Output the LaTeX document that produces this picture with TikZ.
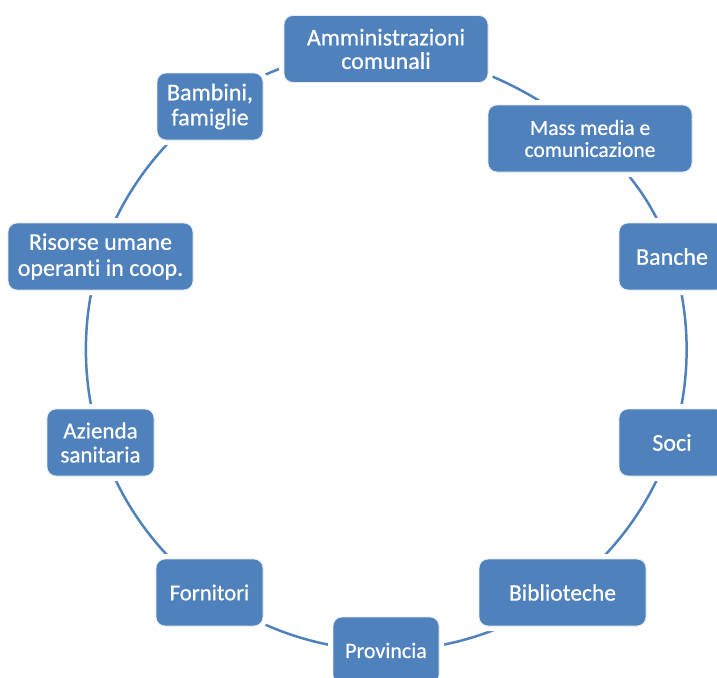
\documentclass[tikz,border=0pt]{standalone}
\usepackage{fontspec}
\setmainfont{Carlito}[FakeBold=0.6, Ligatures={NoCommon}]
\usetikzlibrary{backgrounds}
\definecolor{boxblue}{HTML}{4F81BD}
\definecolor{arcblue}{HTML}{4F81BD}
\newcommand{\fsz}[1]{\fontsize{#1}{#1}\selectfont}
\begin{document}
\begin{tikzpicture}[x=1pt,y=-1pt,
  box/.style={rectangle, rounded corners=9pt, fill=boxblue, draw=white!85!boxblue,
    line width=0.8pt, text=white, align=center, inner sep=0pt,
    minimum height=67pt, font=\fsz{24},
    preaction={draw=white, line width=10pt}},
  link/.style={draw=arcblue, line width=2.5pt, bend left=18, looseness=0.87}]
\useasboundingbox (0,0) rectangle (717,677);
\clip (0,0) rectangle (717,677);
\node[box, minimum width=204pt, font=\fontsize{24}{23.5}\selectfont] (amm) at (386,49) {Amministrazioni\\comunali};
\node[box, minimum width=204pt, font=\fontsize{21.5}{22}\selectfont] (mass) at (590,138.5) {Mass media e\\comunicazione};
\node[box, minimum width=106pt, font=\fsz{24}] (banche) at (672,256.5) {Banche};
\node[box, minimum width=106pt, font=\fsz{24}] (soci) at (672,442.5) {Soci};
\node[box, minimum width=167pt, font=\fsz{23.5}] (bibl) at (562.5,592.5) {Biblioteche};
\node[box, minimum width=106pt, font=\fsz{22}] (prov) at (386,650.5) {Provincia};
\node[box, minimum width=107pt, font=\fsz{22.7}] (forn) at (209.5,592.5) {Fornitori};
\node[box, minimum width=107pt, font=\fontsize{23}{24}\selectfont] (azi) at (100.5,442.5) {Azienda\\sanitaria};
\node[box, minimum width=185pt, font=\fontsize{24}{26}\selectfont] (ris) at (100.5,256.5) {Risorse umane\\operanti in coop.};
\node[box, minimum width=106pt, font=\fontsize{24}{25}\selectfont] (bamb) at (210,106.5) {Bambini,\\famiglie};
\begin{scope}[on background layer]
  \draw[link] (amm.center) to (mass.center);
  \draw[link] (mass.center) to (banche.center);
  \draw[link] (banche.center) to (soci.center);
  \draw[link] (soci.center) to (bibl.center);
  \draw[link] (bibl.center) to (prov.center);
  \draw[link] (prov.center) to (forn.center);
  \draw[link] (forn.center) to (azi.center);
  \draw[link] (azi.center) to (ris.center);
  \draw[link] (ris.center) to (bamb.center);
  \draw[link] (bamb.center) to (amm.center);
\end{scope}
\end{tikzpicture}
\end{document}
